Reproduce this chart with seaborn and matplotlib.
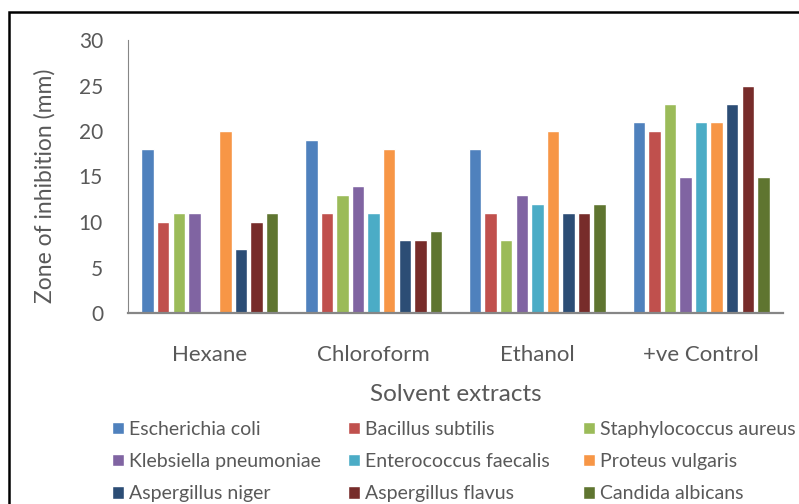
import matplotlib
matplotlib.use("Agg")
import matplotlib.pyplot as plt
import pandas as pd
import seaborn as sns
from matplotlib.patches import Rectangle

# Solvent extracts on the x axis
extracts = ["Hexane", "Chloroform", "Ethanol", "+ve Control"]

# Zone of inhibition (mm) per test organism, one value per extract
organisms = [
    "Escherichia coli", "Bacillus subtilis", "Staphylococcus aureus",
    "Klebsiella pneumoniae", "Enterococcus faecalis", "Proteus vulgaris",
    "Aspergillus niger", "Aspergillus flavus", "Candida albicans",
]
escherichia_coli = [18, 19, 18, 21]
bacillus_subtilis = [10, 11, 11, 20]
staphylococcus_aureus = [11, 13, 8, 23]
klebsiella_pneumoniae = [11, 14, 13, 15]
enterococcus_faecalis = [0, 11, 12, 21]
proteus_vulgaris = [20, 18, 20, 21]
aspergillus_niger = [7, 8, 11, 23]
aspergillus_flavus = [10, 8, 11, 25]
candida_albicans = [11, 9, 12, 15]

y_ticks = [0, 5, 10, 15, 20, 25, 30]

colors = ["#4F81BD", "#C0504D", "#9BBB59", "#8064A2", "#4BACC6",
          "#F79646", "#2C4D75", "#772C2A", "#5F7530"]

series = [escherichia_coli, bacillus_subtilis, staphylococcus_aureus,
          klebsiella_pneumoniae, enterococcus_faecalis, proteus_vulgaris,
          aspergillus_niger, aspergillus_flavus, candida_albicans]

rows = []
for org, vals in zip(organisms, series):
    for ext, v in zip(extracts, vals):
        rows.append({"extract": ext, "organism": org, "zone": v})
df = pd.DataFrame(rows)

sns.set_theme(style="white")
plt.rcParams["font.family"] = ["Lato", "DejaVu Sans"]
text_color = "#595959"

fig = plt.figure(figsize=(7.99, 5.04), dpi=100)
ax = fig.add_axes([128 / 799, 191 / 504, 655 / 799, 273 / 504])

sns.barplot(data=df, x="extract", y="zone", hue="organism",
            order=extracts, hue_order=organisms, palette=colors,
            saturation=1, width=0.855, gap=0.2, errorbar=None, ax=ax)

handles, labels = ax.get_legend_handles_labels()
ax.get_legend().remove()

ax.set_ylim(0, 30)
ax.set_yticks(y_ticks)
ax.set_yticklabels([str(t) for t in y_ticks])
ax.tick_params(axis="y", length=0, pad=18, labelsize=15, labelcolor=text_color)
ax.tick_params(axis="x", length=0, pad=23, labelsize=16, labelcolor=text_color)

for side in ("top", "right"):
    ax.spines[side].set_visible(False)
ax.spines["left"].set_color("#868686")
ax.spines["left"].set_linewidth(0.8)
ax.spines["bottom"].set_color("#868686")
ax.spines["bottom"].set_linewidth(1.6)

ax.set_ylabel("Zone of inhibition (mm)", fontsize=16.5, color=text_color, va="center")
ax.yaxis.set_label_coords(-0.127, 0.466)
ax.set_xlabel("Solvent extracts", fontsize=17.5, color=text_color, va="center")
ax.xaxis.set_label_coords(0.5, -0.297)

# Legend laid out in three columns, row-major order
col_x = [112, 348, 583]
for c in range(3):
    leg = fig.legend(handles[c::3], labels[c::3], loc="upper left",
                     bbox_to_anchor=(col_x[c] / 799, 1 - 421 / 504),
                     frameon=False, fontsize=14, borderpad=0, borderaxespad=0,
                     handlelength=0.6, handleheight=0.6, handletextpad=0.28,
                     labelspacing=0.78)
    for t in leg.get_texts():
        t.set_color(text_color)

# Outer chart frame
fig.add_artist(Rectangle((8.5 / 799, -0.1), 1.2, 1.1 - 12 / 504,
                         transform=fig.transFigure, fill=False,
                         edgecolor="black", linewidth=1.8, clip_on=False))

fig.savefig("out.png", dpi=100)
